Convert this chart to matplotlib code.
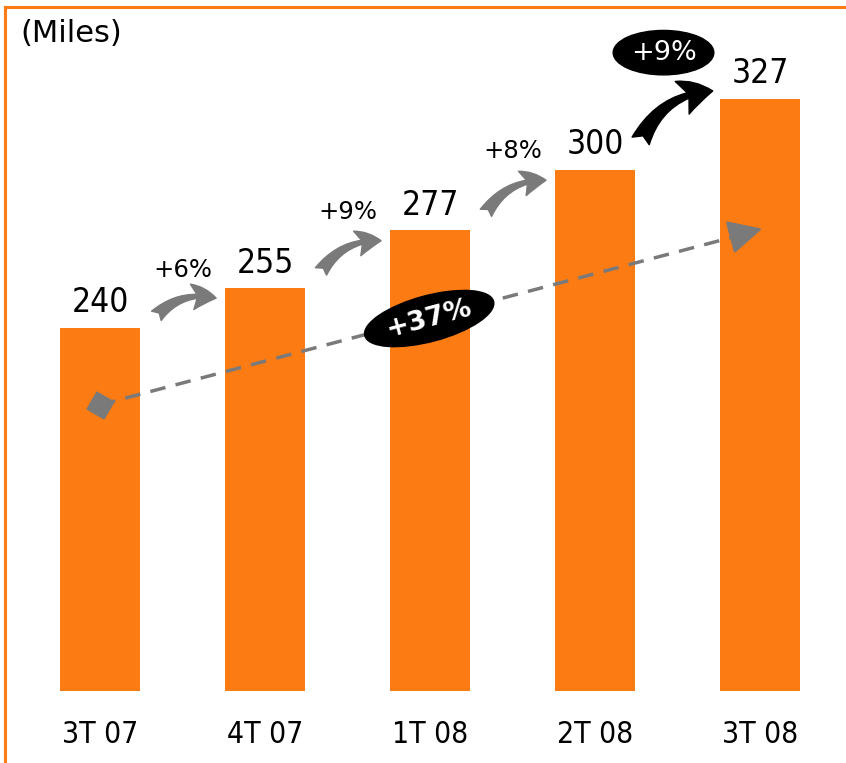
import matplotlib
matplotlib.use("Agg")
import matplotlib.pyplot as plt
from matplotlib.patches import FancyArrowPatch
from matplotlib.lines import Line2D

# data
quarters = ["3T 07", "4T 07", "1T 08", "2T 08", "3T 08"]
values = [240, 255, 277, 300, 327]
step_growth = ["+6%", "+9%", "+8%", "+9%"]
total_growth = "+37%"
unit_label = "(Miles)"

ORANGE = "#FC7B12"
GREY = "#7A7A7A"

plt.rcParams["font.family"] = ["DejaVu Sans"]

fig = plt.figure(figsize=(8.46, 7.63), dpi=100)
ax = fig.add_axes([0, 72 / 763, 1, 691 / 763])
ax.set_xlim(-0.606, 4.521)
ax.set_ylim(102, 364.5)

x = list(range(len(values)))
bars = ax.bar(x, values, width=0.49, bottom=0, color=ORANGE, zorder=2)
ax.bar_label(bars, labels=[str(v) for v in values], padding=6, fontsize=24,
             fontstretch="condensed")

ax.set_xticks(x, quarters, fontsize=21.5, fontstretch="condensed")
ax.tick_params(axis="x", length=0, pad=21)
ax.set_yticks([])
for s in ax.spines.values():
    s.set_visible(False)

# step arrows between bars
for i, lab in enumerate(step_growth):
    last = i == len(step_growth) - 1
    d = values[i + 1] - values[i]
    if last:
        start = (i + 0.27, values[i] + 10)
        end = (i + 0.73, values[i + 1] + 3)
        style = "fancy,head_length=0.75,head_width=0.85,tail_width=0.45"
        arr = FancyArrowPatch(start, end, arrowstyle=style, connectionstyle="arc3,rad=-0.32",
                              mutation_scale=30, color="black", zorder=4)
        ax.add_patch(arr)
        ax.text(i + 0.415, values[i + 1] + 17.5, lab, ha="center", va="center", fontsize=19.5,
                color="white", zorder=5,
                bbox=dict(boxstyle="ellipse,pad=0.1", fc="black", ec="black"))
    else:
        start = (i + 0.33, values[i] + 0.25 * d)
        end = (i + 0.72, values[i + 1] - 4)
        style = "fancy,head_length=0.75,head_width=0.8,tail_width=0.42"
        arr = FancyArrowPatch(start, end, arrowstyle=style, connectionstyle="arc3,rad=-0.3",
                              mutation_scale=23, color=GREY, zorder=4)
        ax.add_patch(arr)
        ax.text(i + 0.5, values[i + 1] + 7, lab, ha="center", va="center", fontsize=17.5,
                zorder=5)

# overall trend line
trend_x = [0, 3.9]
trend_y = [210.7, 275.5]
ax.plot(trend_x, trend_y, ls=(0, (4.5, 3)), lw=2.5, color=GREY, zorder=3)
ax.plot([0], [210.7], marker=(4, 0, 15), ms=20, color=GREY, zorder=3)
ax.annotate("", xy=(4.03, 277.9), xytext=(3.88, 275.4),
            arrowprops=dict(arrowstyle="-|>,head_length=1.1,head_width=0.55", color=GREY,
                            lw=2, mutation_scale=19), zorder=3)
ax.text(1.995, 243.5, total_growth, rotation=15, ha="center", va="center", fontsize=19.5,
        fontweight="bold", color="white", zorder=6, rotation_mode="anchor",
        bbox=dict(boxstyle="ellipse,pad=0.12", fc="black", ec="black"))

fig.text(20 / 846, 1 - 33 / 763, unit_label, fontsize=22, ha="left", va="center")

# frame (left and top edges)
fig.add_artist(Line2D([4.5 / 846, 4.5 / 846], [0, 1 - 6.5 / 763], color=ORANGE, lw=2.2))
fig.add_artist(Line2D([4.5 / 846, 1], [1 - 6.5 / 763, 1 - 6.5 / 763], color=ORANGE, lw=2.2))

fig.savefig("out.png", dpi=100)
